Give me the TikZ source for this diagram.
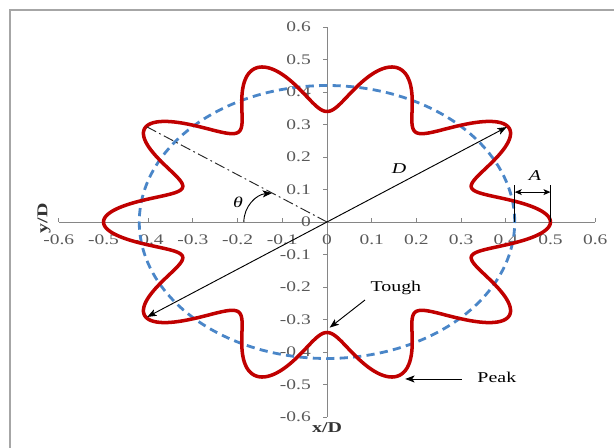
\documentclass[tikz,border=0pt]{standalone}
\usepackage{fontspec}
\setmainfont[FakeStretch=1.33]{Liberation Serif}
\usetikzlibrary{arrows.meta}
\definecolor{curvered}{HTML}{C00000}
\definecolor{circblue}{HTML}{4A86C8}
\definecolor{axisgray}{HTML}{868686}
\definecolor{labgray}{HTML}{595959}
\definecolor{framegray}{HTML}{A6A6A6}
\begin{document}
\begin{tikzpicture}[x=13.41cm, y=9.75cm,
  ticklab/.style={font=\fontsize{12.5}{14}\selectfont, text=labgray, inner sep=0pt},
  annot/.style={font=\fontsize{12.8}{15}\selectfont, inner sep=0pt},
  axlabel/.style={font=\fontsize{12.8}{15}\selectfont\bfseries, text=black!80, inner sep=0pt},
  axline/.style={axisgray, line width=0.8pt},
  thinline/.style={black, line width=0.8pt},
  tipend/.style={-{Stealth[length=8pt,width=6pt,inset=2pt]}},
  tipboth/.style={{Stealth[length=8pt,width=6pt,inset=2pt]}-{Stealth[length=8pt,width=6pt,inset=2pt]}},
  tipsmall/.style={{Stealth[length=6pt,width=5pt,inset=1.5pt]}-{Stealth[length=6pt,width=5pt,inset=1.5pt]}}]
\useasboundingbox (-0.73154,-0.69538) rectangle (0.64206,0.68308);
% frame
\coordinate (F1) at (-0.709,-0.72);
\coordinate (F2) at (-0.709,0.652);
\coordinate (F3) at (0.66,0.652);
\draw[framegray, line width=1.3pt] (F1) -- (F2) -- (F3);
% axes
\coordinate (O) at (0,0);
\coordinate (XL) at (-0.6,0);
\coordinate (XR) at (0.6,0);
\coordinate (YB) at (0,-0.6);
\coordinate (YT) at (0,0.6);
\draw[axline] (XL) -- (XR);
\draw[axline] (YB) -- (YT);
\foreach \v/\t in {-0.6/-0.6,-0.5/-0.5,-0.4/-0.4,-0.3/-0.3,-0.2/-0.2,-0.1/-0.1,0/0,0.1/0.1,0.2/0.2,0.3/0.3,0.4/0.4,0.5/0.5,0.6/0.6}{
  \draw[axline] (\v,0) -- ++(0,0.12cm);
  \node[ticklab] at ([yshift=-0.54cm]\v,0) {\t};
  \draw[axline] (0,\v) -- ++(-0.12cm,0);
  \node[ticklab, anchor=east] at ([xshift=-0.48cm]0,\v) {\t};
}
\node[axlabel, rotate=90] (ylab) at (-0.633,0.012) {y/D};
\node[axlabel] (xlab) at (0,-0.634) {x/D};
% dashed circle
\draw[circblue, line width=2.4pt, dash pattern=on 7pt off 4.5pt]
  plot[domain=0:360, samples=181, variable=\t] ({0.42*cos(\t)},{0.42*sin(\t)});
% wavy curve
\draw[curvered, line width=3pt, line join=round]
  plot[domain=0:360, samples=721, variable=\t]
  ({(0.42+0.08*cos(10*\t))*cos(\t)},{(0.42+0.08*cos(10*\t))*sin(\t)}) -- cycle;
% D arrow and dash-dot line
\coordinate (Pne) at ({0.5*cos(36)},{0.5*sin(36)});
\coordinate (Psw) at ({0.5*cos(216)},{0.5*sin(216)});
\coordinate (Pnw) at ({0.5*cos(144)},{0.5*sin(144)});
\draw[thinline, tipboth, shorten <=1pt, shorten >=1pt] (Psw) -- (Pne);
\node[annot, font=\fontsize{12.8}{15}\selectfont\itshape] (Dl) at (0.161,0.163) {D};
\draw[black!85, line width=0.8pt, dash pattern=on 9pt off 3pt on 1.5pt off 3pt] (O) -- (Pnw);
% theta
\coordinate (th1) at (-0.186,0);
\coordinate (th2) at (-0.123,0.089);
\draw[thinline, tipend] (th1) to[out=90,in=185] (th2);
\node[annot, font=\fontsize{12.8}{15}\selectfont\itshape] (thl) at (-0.199,0.062) {θ};
% A dimension
\coordinate (A0) at (0.42,0);
\coordinate (A0t) at (0.42,0.114);
\coordinate (A1) at (0.5,0);
\coordinate (A1t) at (0.5,0.114);
\coordinate (Aa) at (0.42,0.092);
\coordinate (Ab) at (0.5,0.092);
\draw[thinline] (A0) -- (A0t);
\draw[thinline] (A1) -- (A1t);
\draw[thinline, tipsmall] (Aa) -- (Ab);
\node[annot, font=\fontsize{12.8}{15}\selectfont\itshape] (Al) at (0.465,0.142) {A};
% Tough and Peak
\node[annot] (tough) at (0.154,-0.203) {Tough};
\coordinate (ts) at (0.085,-0.240);
\coordinate (tr) at (0.006,-0.325);
\draw[thinline, tipend] (ts) -- (tr);
\node[annot] (peak) at (0.380,-0.477) {Peak};
\coordinate (ps) at (0.302,-0.483);
\coordinate (pe) at (0.175,-0.483);
\draw[thinline, tipend] (ps) -- (pe);
\end{tikzpicture}
\end{document}
